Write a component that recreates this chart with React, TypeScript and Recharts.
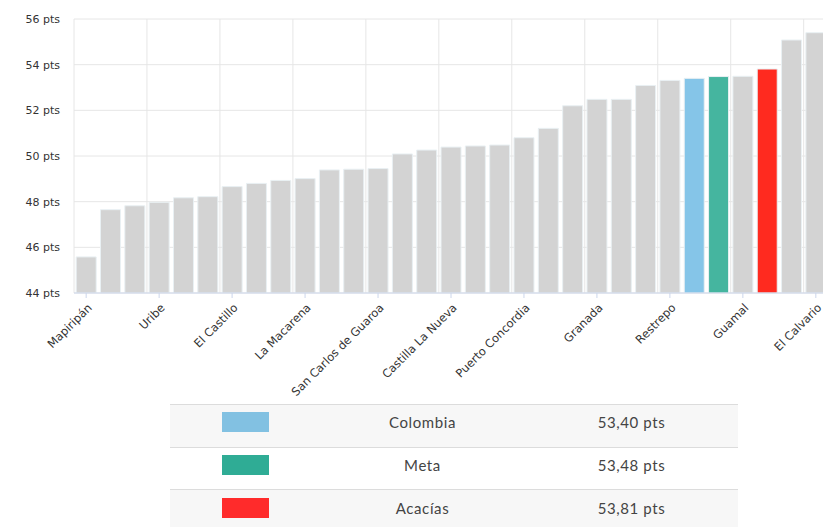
import React from 'react';
import { BarChart, Bar, Cell, XAxis, YAxis, CartesianGrid } from 'recharts';

const municipios = [
  'Mapiripán', 'Puerto Gaitán', 'Puerto Rico', 'Uribe', 'Mesetas', 'Vista Hermosa',
  'El Castillo', 'Puerto Lleras', 'San Juan de Arama', 'La Macarena', 'Lejanías', 'El Dorado',
  'San Carlos de Guaroa', 'Fuente de Oro', 'Puerto López', 'Castilla La Nueva', 'Cabuyaro', 'Barranca de Upía',
  'Puerto Concordia', 'Cubarral', 'San Martín', 'Granada', 'San Juanito', 'Cumaral',
  'Restrepo', 'Colombia', 'Meta', 'Guamal', 'Acacías', 'Villavicencio', 'El Calvario',
];

const puntajes = [
  45.58, 47.65, 47.82, 47.97, 48.17, 48.22,
  48.66, 48.8, 48.93, 49.01, 49.39, 49.42,
  49.45, 50.09, 50.26, 50.39, 50.44, 50.48,
  50.8, 51.21, 52.2, 52.48, 52.48, 53.09,
  53.31, 53.4, 53.48, 53.49, 53.81, 55.08, 55.4,
];

const yTicks = [44, 46, 48, 50, 52, 54, 56];

const destacados = ['Colombia', 'Meta', 'Acacías'];
const destacadosColor = ['#85c5e8', '#45b59f', '#ff2a1f'];
const leyendaColor = ['#82c1e2', '#2fac95', '#ff2b2b'];
const leyendaValor = ['53,40 pts', '53,48 pts', '53,81 pts'];

const data = municipios.map((name, i) => ({ name, value: puntajes[i] }));

const XTick = ({ x, y, payload }: any) => (
  <g transform={`translate(${x},${y})`}>
    <text
      x={0}
      y={0}
      transform="translate(4,6) rotate(-45)"
      textAnchor="end"
      dominantBaseline="middle"
      fontSize={11.5}
      fontFamily="DejaVu Sans, Verdana, sans-serif"
      fill="#333"
    >
      {payload.value}
    </text>
  </g>
);

const gridX = ({ offset }: any) => {
  const n = municipios.length;
  const out: number[] = [];
  for (let k = 0; k <= n; k += 3) out.push(offset.left + (k * offset.width) / n);
  return out;
};

export default function App() {
  return (
    <div style={{ position: 'fixed', left: 0, top: 0, width: 823, height: 527, overflow: 'hidden', background: '#fff' }}>
      <BarChart
        width={840}
        height={400}
        data={data}
        margin={{ top: 19, right: 12, left: 0, bottom: 0 }}
        barCategoryGap="9%"
      >
        <CartesianGrid stroke="#e6e6e6" verticalCoordinatesGenerator={gridX} />
        <XAxis
          dataKey="name"
          interval={2}
          height={107}
          tick={<XTick />}
          tickSize={5}
          tickMargin={2}
          stroke="#ccd6eb"
          tickLine={{ stroke: '#ccd6eb' }}
        />
        <YAxis
          domain={[44, 56]}
          ticks={yTicks}
          width={74}
          axisLine={false}
          tickLine={false}
          tickSize={0}
          tickMargin={14}
          tickFormatter={(v: number) => `${v} pts`}
          tick={{ fontSize: 11, fill: '#333', fontFamily: 'DejaVu Sans, Verdana, sans-serif' }}
          allowDataOverflow
        />
        <Bar dataKey="value" isAnimationActive={false} stroke="#e9f0f3" strokeWidth={1}>
          {data.map((d, i) => {
            const h = destacados.indexOf(d.name);
            return <Cell key={i} fill={h >= 0 ? destacadosColor[h] : '#d3d3d3'} />;
          })}
        </Bar>
      </BarChart>
      <table
        style={{
          position: 'absolute',
          left: 170,
          top: 404,
          width: 568,
          borderCollapse: 'collapse',
          fontFamily: 'Lato, sans-serif',
          fontSize: 15,
          letterSpacing: 0.6,
          color: '#444',
        }}
      >
        <tbody>
          {destacados.map((name, i) => (
            <tr key={name} style={{ background: i % 2 === 0 ? '#f7f7f7' : '#fff', borderTop: '1px solid #dcdcdc', height: 42.5 }}>
              <td style={{ width: 150, textAlign: 'center', padding: '0 0 7px 0' }}>
                <div style={{ width: 47, height: 20, background: leyendaColor[i], margin: '0 auto' }} />
              </td>
              <td style={{ width: 205, textAlign: 'center', padding: '0 0 7px 0' }}>{name}</td>
              <td style={{ width: 213, textAlign: 'center', padding: '0 0 7px 0' }}>{leyendaValor[i]}</td>
            </tr>
          ))}
        </tbody>
      </table>
    </div>
  );
}
